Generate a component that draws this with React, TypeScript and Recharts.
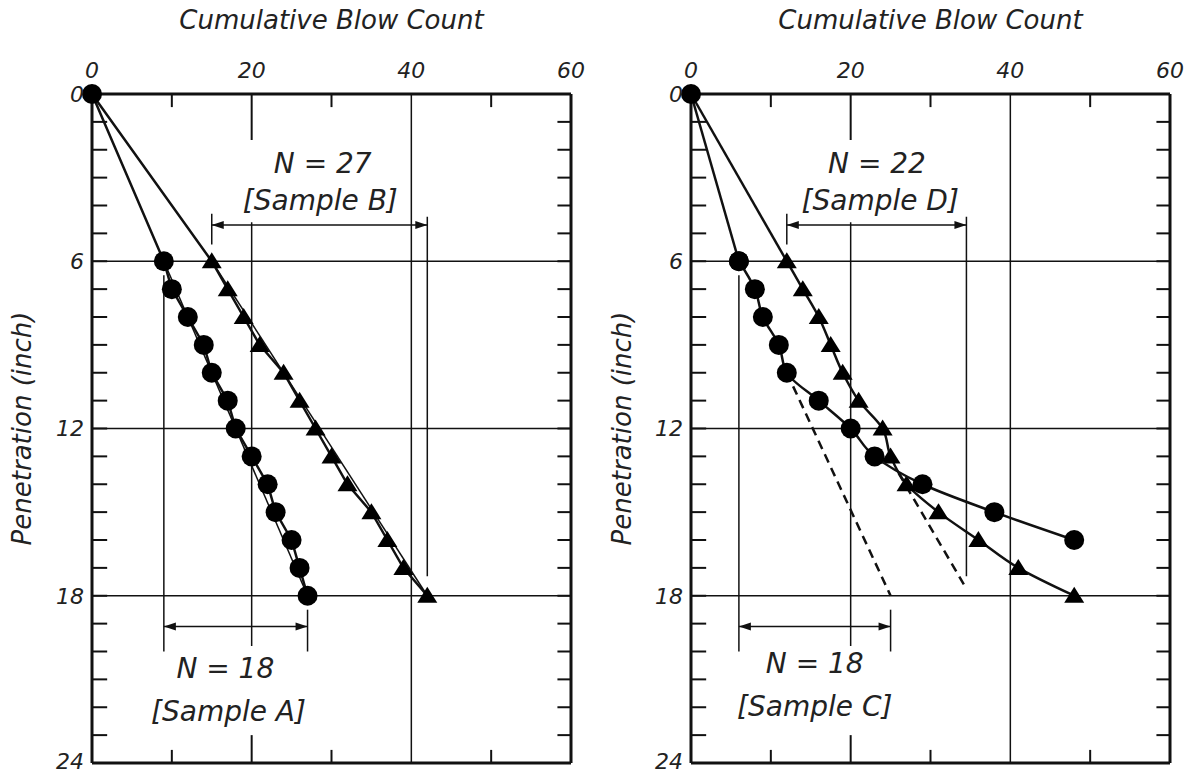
import React from 'react';
import { ScatterChart, Scatter, XAxis, YAxis, ReferenceLine, ReferenceDot } from 'recharts';

// axis ticks
const xTickLabels = [0, 20, 40, 60];
const yTickLabels = [0, 6, 12, 18, 24];
const minorXTicks = [10, 30, 50];
const inchTicks = [1, 2, 3, 4, 5, 6, 7, 8, 9, 10, 11, 12, 13, 14, 15, 16, 17, 18, 19, 20, 21, 22, 23];
const gridDepths = [6, 12, 18];

// Sample A / B (left panel)
const depthAB = [0, 6, 7, 8, 9, 10, 11, 12, 13, 14, 15, 16, 17, 18];
const blowsA = [0, 9, 10, 12, 14, 15, 17, 18, 20, 22, 23, 25, 26, 27];
const blowsB = [0, 15, 17, 19, 21, 24, 26, 28, 30, 32, 35, 37, 39, 42];

// Sample C / D (right panel)
const depthC = [0, 6, 7, 8, 9, 10, 11, 12, 13, 14, 15, 16];
const blowsC = [0, 6, 8, 9, 11, 12, 16, 20, 23, 29, 38, 48];
const depthD = [0, 6, 7, 8, 9, 10, 11, 12, 13, 14, 15, 16, 17, 18];
const blowsD = [0, 12, 14, 16, 17.5, 19, 21, 24, 25, 27, 31, 36, 41, 48];

const toPoints = (xs: number[], ys: number[]) => xs.map((x, i) => ({ x, y: ys[i] }));

const INK = '#111';
const TXT = '#222';
const font = 'DejaVu Sans';

const circleShape = (p: any) => <circle cx={p.cx} cy={p.cy} r={10} fill="#000" />;
const triangleShape = (p: any) => {
  if (p.payload && p.payload.y === 0) return <g />;
  const { cx, cy } = p;
  return <polygon points={`${cx},${cy - 9} ${cx - 10},${cy + 7} ${cx + 10},${cy + 7}`} fill="#000" />;
};
const noShape = () => <g />;

const arrowShape = (p: any) => {
  const { x1, y1, x2, y2 } = p;
  const h = 4;
  const l = 12;
  return (
    <g>
      <line x1={x1} y1={y1} x2={x2} y2={y2} stroke={INK} strokeWidth={1.5} />
      <polygon points={`${x1},${y1} ${x1 + l},${y1 - h} ${x1 + l},${y1 + h}`} fill={INK} />
      <polygon points={`${x2},${y2} ${x2 - l},${y2 - h} ${x2 - l},${y2 + h}`} fill={INK} />
    </g>
  );
};

const seg = (key: string, x1: number, y1: number, x2: number, y2: number, w = 1.5, dash?: string) => (
  <ReferenceLine
    key={key}
    segment={[{ x: x1, y: y1 }, { x: x2, y: y2 }]}
    stroke={INK}
    strokeWidth={w}
    strokeDasharray={dash}
  />
);

const bracket = (key: string, x1: number, x2: number, y: number) => (
  <ReferenceLine key={key} segment={[{ x: x1, y }, { x: x2, y }]} shape={arrowShape} />
);

const note = (key: string, x: number, y: number, text: string) => (
  <ReferenceDot
    key={key}
    x={x}
    y={y}
    r={1}
    fill="none"
    stroke="none"
    label={{ value: text, position: 'center', fontSize: 28, fontStyle: 'italic', fill: TXT, fontFamily: font }}
  />
);

const frame = () => [
  ...inchTicks.map((d) => seg('l' + d, 0, d, 1.9, d, 2)),
  ...inchTicks.map((d) => seg('r' + d, 58.3, d, 60, d, 2)),
  ...minorXTicks.map((v) => seg('t' + v, v, 0, v, 0.47, 2)),
  ...minorXTicks.map((v) => seg('b' + v, v, 23.53, v, 24, 2)),
  seg('t20', 20, 0, 20, 1.65, 2),
  seg('b20', 20, 23, 20, 24, 2),
  ...gridDepths.map((d) => <ReferenceLine key={'g' + d} y={d} stroke={INK} strokeWidth={1.5} />),
  <ReferenceLine key="g40" x={40} stroke={INK} strokeWidth={1.5} />,
  <ReferenceLine key="fr" x={60} stroke={INK} strokeWidth={3} />,
  <ReferenceLine key="fb" y={24} stroke={INK} strokeWidth={3} />,
];

const Panel = ({ width, axisW, children }: { width: number; axisW: number; children: React.ReactNode }) => (
  <ScatterChart width={width} height={774} margin={{ top: 0, right: width - axisW - 479, bottom: 11, left: 0 }}>
    <XAxis
      type="number"
      dataKey="x"
      orientation="top"
      domain={[0, 60]}
      ticks={xTickLabels}
      height={94}
      tickLine={false}
      tickSize={6}
      tickMargin={10}
      axisLine={{ stroke: INK, strokeWidth: 3 }}
      tick={{ fontSize: 22, fontStyle: 'italic', fill: TXT, fontFamily: font }}
      label={{
        value: 'Cumulative Blow Count',
        position: 'insideTop',
        offset: 11,
        style: { fontSize: 26, fontStyle: 'italic', fill: TXT, fontFamily: font },
      }}
    />
    <YAxis
      type="number"
      dataKey="y"
      reversed
      domain={[0, 24]}
      ticks={yTickLabels}
      width={axisW}
      tickLine={false}
      tickSize={4}
      tickMargin={4}
      axisLine={{ stroke: INK, strokeWidth: 3 }}
      tick={{ fontSize: 22, fontStyle: 'italic', fill: TXT, fontFamily: font }}
      label={{
        value: 'Penetration (inch)',
        angle: -90,
        position: 'insideLeft',
        offset: 22,
        style: { textAnchor: 'middle', fontSize: 26, fontStyle: 'italic', fill: TXT, fontFamily: font },
      }}
    />
    {children}
  </ScatterChart>
);

const lineStyle = { stroke: INK, strokeWidth: 2.5 };

export default function App() {
  return (
    <div style={{ position: 'absolute', left: 0, top: 0, width: 1193, height: 774, background: '#fff', fontFamily: font }}>
      <div style={{ position: 'absolute', left: 0, top: 0 }}>
        <Panel width={600} axisW={92}>
          {frame()}
          {seg('a1', 9, 6.5, 9, 20)}
          {seg('a2', 27, 18.5, 27, 20)}
          {seg('a3', 20, 4.6, 20, 19.8)}
          {seg('b1', 15, 4.3, 15, 5.4)}
          {seg('b2', 42, 4.4, 42, 17.3)}
          {seg('fa', 9, 6, 27, 18, 1.5)}
          {seg('fb', 15, 6, 42, 18, 1.5)}
          {bracket('brB', 15, 42, 4.7)}
          {bracket('brA', 9, 27, 19.1)}
          {note('n1', 28.9, 2.47, 'N = 27')}
          {note('n2', 28.6, 3.8, '[Sample B]')}
          {note('n3', 16.7, 20.6, 'N = 18')}
          {note('n4', 17.1, 22.15, '[Sample A]')}
          <Scatter data={toPoints(blowsB, depthAB)} line={lineStyle} shape={triangleShape} isAnimationActive={false} />
          <Scatter data={toPoints(blowsA, depthAB)} line={lineStyle} shape={circleShape} isAnimationActive={false} />
        </Panel>
      </div>
      <div style={{ position: 'absolute', left: 600, top: 0 }}>
        <Panel width={593} axisW={91}>
          {frame()}
          {seg('c1', 6, 6.5, 6, 20)}
          {seg('c2', 25, 18.5, 25, 20)}
          {seg('c3', 20, 4.6, 20, 19.8)}
          {seg('d1', 12, 4.3, 12, 5.4)}
          {seg('d2', 34.5, 4.4, 34.5, 17.3)}
          {seg('fc', 12, 10, 25, 18, 2.5, '9 6')}
          {seg('fd', 26, 13.6, 34.5, 17.75, 2.5, '9 6')}
          {bracket('brD', 12, 34.5, 4.7)}
          {bracket('brC', 6, 25, 19.1)}
          {note('n5', 23.3, 2.47, 'N = 22')}
          {note('n6', 23.7, 3.8, '[Sample D]')}
          {note('n7', 15.5, 20.4, 'N = 18')}
          {note('n8', 15.5, 21.96, '[Sample C]')}
          {/* straight lead-in from the origin, then a smooth curve */}
          <Scatter data={toPoints(blowsD.slice(0, 2), depthD.slice(0, 2))} line={lineStyle} shape={noShape} isAnimationActive={false} />
          <Scatter
            data={toPoints(blowsD.slice(1), depthD.slice(1))}
            line={lineStyle}
            lineJointType="monotoneY"
            shape={triangleShape}
            isAnimationActive={false}
          />
          <Scatter data={toPoints(blowsC.slice(0, 2), depthC.slice(0, 2))} line={lineStyle} shape={circleShape} isAnimationActive={false} />
          <Scatter
            data={toPoints(blowsC.slice(1), depthC.slice(1))}
            line={lineStyle}
            lineJointType="monotoneY"
            shape={circleShape}
            isAnimationActive={false}
          />
        </Panel>
      </div>
    </div>
  );
}
